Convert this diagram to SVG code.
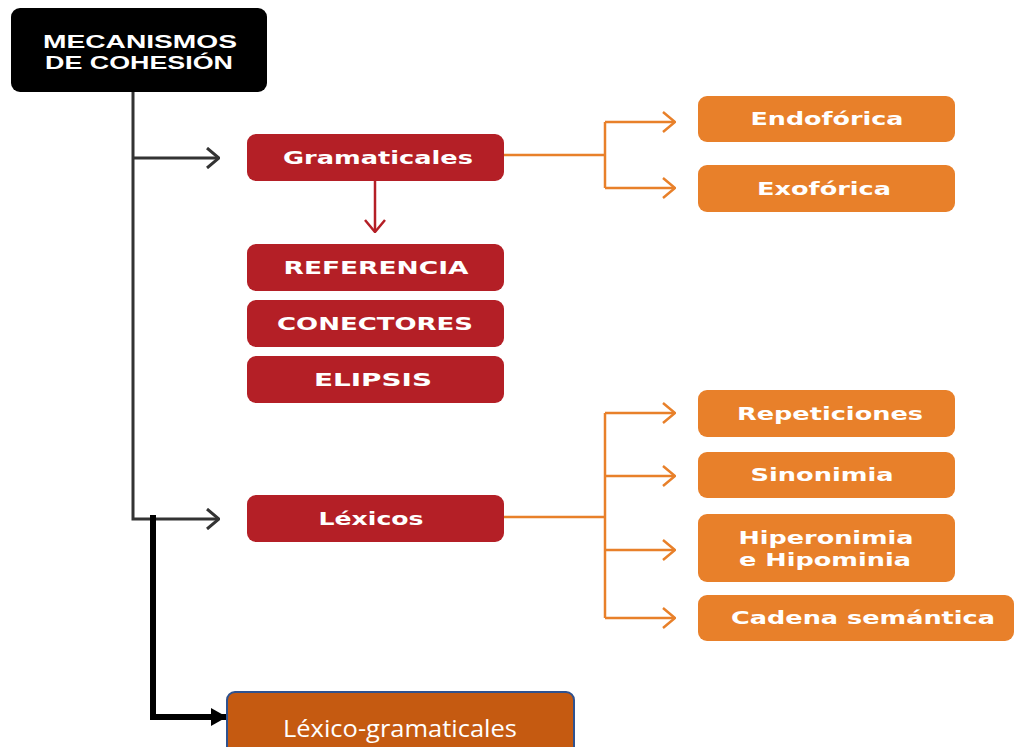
<svg xmlns="http://www.w3.org/2000/svg" width="1015" height="747" viewBox="0 0 1015 747">
<style>
.red{fill:#B41F26}
.org{fill:#E8802A}
.lbl{font-family:"DejaVu Sans",Verdana,sans-serif;font-weight:bold;font-size:17px;fill:#fff}
.blk{stroke:#333;stroke-width:3;fill:none}
.ol{stroke:#E8802A;stroke-width:2.5;fill:none}
.rl{stroke:#B41F26;stroke-width:2.5;fill:none}
.hd{font-family:"Liberation Sans",Arial,sans-serif;font-weight:bold;font-size:19px;fill:#fff}
</style>
<defs>
<marker id="chevB" viewBox="0 0 14 22" markerWidth="14" markerHeight="22" refX="13" refY="11" orient="auto" markerUnits="userSpaceOnUse">
<path d="M1,1 L13,11 L1,21" fill="none" stroke="#333" stroke-width="3"/>
</marker>
<marker id="chevO" viewBox="0 0 14 22" markerWidth="14" markerHeight="22" refX="13" refY="11" orient="auto" markerUnits="userSpaceOnUse">
<path d="M1,1 L13,11 L1,21" fill="none" stroke="#E8802A" stroke-width="2.5"/>
</marker>
<marker id="chevR" viewBox="0 0 14 22" markerWidth="14" markerHeight="22" refX="13" refY="11" orient="auto" markerUnits="userSpaceOnUse">
<path d="M1,1 L13,11 L1,21" fill="none" stroke="#B41F26" stroke-width="2.5"/>
</marker>
<marker id="tri" viewBox="0 0 16 18" markerWidth="16" markerHeight="18" refX="16" refY="9" orient="auto" markerUnits="userSpaceOnUse">
<path d="M0,0 L16,9 L0,18 Z" fill="#000"/>
</marker>
</defs>

<g id="connectors">
<path class="blk" d="M133,92 V519 H219" marker-end="url(#chevB)"/>
<path class="blk" d="M133,158 H219" marker-end="url(#chevB)"/>
<path class="rl" d="M375,181 V232" marker-end="url(#chevR)"/>
<path class="ol" d="M504,155 H605"/>
<path class="ol" d="M605,122 V188"/>
<path class="ol" d="M605,122 H675" marker-end="url(#chevO)"/>
<path class="ol" d="M605,188 H675" marker-end="url(#chevO)"/>
<path class="ol" d="M504,517 H605"/>
<path class="ol" d="M605,413 V618"/>
<path class="ol" d="M605,413 H675" marker-end="url(#chevO)"/>
<path class="ol" d="M605,476 H675" marker-end="url(#chevO)"/>
<path class="ol" d="M605,550 H675" marker-end="url(#chevO)"/>
<path class="ol" d="M605,618 H675" marker-end="url(#chevO)"/>
<path d="M153,515 V717 H227" fill="none" stroke="#000" stroke-width="6" marker-end="url(#tri)"/>
</g>

<g id="mecanismos">
<rect x="11" y="8" width="256" height="84" rx="9" fill="#000"/>
<text class="hd" x="140" y="48" text-anchor="middle" textLength="194" lengthAdjust="spacingAndGlyphs">MECANISMOS</text>
<text class="hd" x="139" y="69" text-anchor="middle" textLength="188" lengthAdjust="spacingAndGlyphs">DE COHESIÓN</text>
</g>

<g id="gramaticales">
<rect class="red" x="247" y="134" width="257" height="47" rx="9"/>
<text class="lbl" x="378" y="164" text-anchor="middle" textLength="190" lengthAdjust="spacingAndGlyphs">Gramaticales</text>
</g>
<g id="referencia">
<rect class="red" x="247" y="244" width="257" height="47" rx="9"/>
<text class="lbl" x="376" y="274" text-anchor="middle" textLength="185" lengthAdjust="spacingAndGlyphs">REFERENCIA</text>
</g>
<g id="conectores">
<rect class="red" x="247" y="300" width="257" height="47" rx="9"/>
<text class="lbl" x="375" y="330" text-anchor="middle" textLength="196" lengthAdjust="spacingAndGlyphs">CONECTORES</text>
</g>
<g id="elipsis">
<rect class="red" x="247" y="356" width="257" height="47" rx="9"/>
<text class="lbl" x="373" y="386" text-anchor="middle" textLength="118" lengthAdjust="spacingAndGlyphs">ELIPSIS</text>
</g>
<g id="lexicos">
<rect class="red" x="247" y="495" width="257" height="47" rx="9"/>
<text class="lbl" x="371" y="525" text-anchor="middle" textLength="105" lengthAdjust="spacingAndGlyphs">Léxicos</text>
</g>

<g id="endoforica">
<rect class="org" x="698" y="96" width="257" height="46" rx="9"/>
<text class="lbl" x="827" y="125" text-anchor="middle" textLength="153" lengthAdjust="spacingAndGlyphs">Endofórica</text>
</g>
<g id="exoforica">
<rect class="org" x="698" y="165" width="257" height="47" rx="9"/>
<text class="lbl" x="824" y="195" text-anchor="middle" textLength="134" lengthAdjust="spacingAndGlyphs">Exofórica</text>
</g>
<g id="repeticiones">
<rect class="org" x="698" y="390" width="257" height="47" rx="9"/>
<text class="lbl" x="830" y="420" text-anchor="middle" textLength="186" lengthAdjust="spacingAndGlyphs">Repeticiones</text>
</g>
<g id="sinonimia">
<rect class="org" x="698" y="452" width="257" height="46" rx="9"/>
<text class="lbl" x="822" y="481" text-anchor="middle" textLength="143" lengthAdjust="spacingAndGlyphs">Sinonimia</text>
</g>
<g id="hiperonimia">
<rect class="org" x="698" y="514" width="257" height="68" rx="9"/>
<text class="lbl" x="826" y="544" text-anchor="middle" textLength="175" lengthAdjust="spacingAndGlyphs">Hiperonimia</text>
<text class="lbl" x="825" y="566" text-anchor="middle" textLength="172" lengthAdjust="spacingAndGlyphs">e Hipominia</text>
</g>
<g id="cadena">
<rect class="org" x="698" y="595" width="316" height="46" rx="9"/>
<text class="lbl" x="863" y="624" text-anchor="middle" textLength="264" lengthAdjust="spacingAndGlyphs">Cadena semántica</text>
</g>

<g id="lexico-gramaticales">
<rect x="227" y="692" width="347" height="70" rx="8" fill="#C55A11" stroke="#2F528F" stroke-width="2"/>
<text x="400" y="737" text-anchor="middle" font-family="'Open Sans','Liberation Sans',sans-serif" font-size="24" fill="#fff" textLength="234" lengthAdjust="spacingAndGlyphs">Léxico-gramaticales</text>
</g>
</svg>
